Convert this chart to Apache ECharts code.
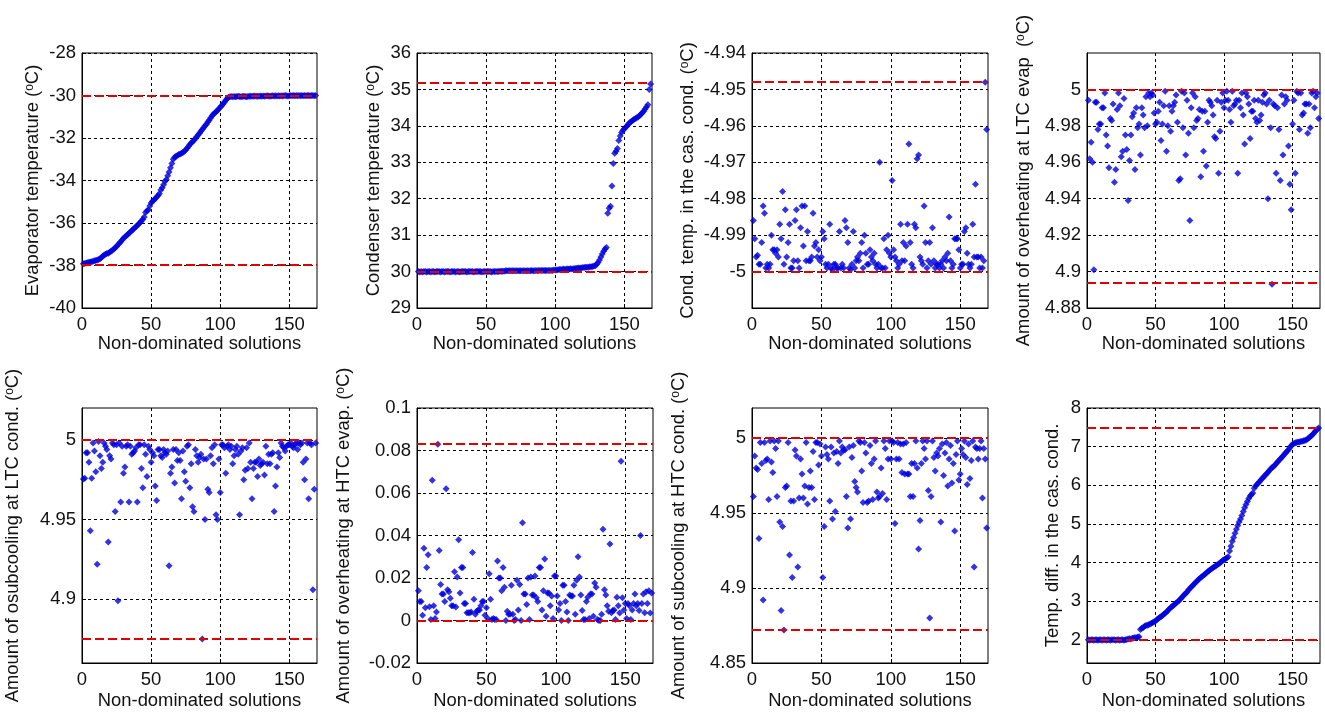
<!DOCTYPE html>
<html><head><meta charset="utf-8">
<script src="https://cdn.jsdelivr.net/npm/echarts@6/dist/echarts.min.js"></script>
<style>html,body{margin:0;padding:0;background:#fff}#c{width:1325px;height:713px}</style>
</head><body><div id="c"></div><script>
// ---------- DATA ----------
const xMax = 170;
const xTicks = [0, 50, 100, 150];
const xName = 'Non-dominated solutions';

const evapTemp = [
-37.92,-37.9,-37.88,-37.87,-37.85,-37.84,-37.82,-37.8,-37.78,-37.76,
-37.74,-37.72,-37.68,-37.62,-37.56,-37.5,-37.47,-37.44,-37.42,-37.38,
-37.33,-37.28,-37.22,-37.16,-37.1,-37.02,-36.95,-36.88,-36.8,-36.72,
-36.66,-36.6,-36.54,-36.48,-36.42,-36.35,-36.3,-36.24,-36.18,-36.12,
-36.05,-35.98,-35.9,-35.82,-35.72,-35.5,-35.42,-35.38,-35.2,-35.06,
-34.98,-34.92,-34.86,-34.78,-34.7,-34.62,-34.45,-34.34,-34.2,-34.05,
-33.95,-33.78,-33.6,-33.4,-33.2,-33.0,-32.9,-32.86,-32.82,-32.78,
-32.75,-32.72,-32.68,-32.62,-32.56,-32.48,-32.4,-32.3,-32.24,-32.18,
-32.1,-32.02,-31.94,-31.86,-31.78,-31.68,-31.6,-31.52,-31.42,-31.35,
-31.25,-31.16,-31.06,-30.96,-30.88,-30.82,-30.76,-30.7,-30.62,-30.55,
-30.48,-30.4,-30.32,-30.22,-30.14,-30.08,-30.06,-30.05,-30.06,-30.05,
-30.06,-30.05,-30.04,-30.05,-30.06,-30.05,-30.04,-30.05,-30.06,-30.05,
-30.04,-30.03,-30.04,-30.03,-30.02,-30.03,-30.04,-30.03,-30.02,-30.03,
-30.02,-30.03,-30.02,-30.01,-30.02,-30.03,-30.02,-30.01,-30.02,-30.01,
-30.02,-30.01,-30.02,-30.01,-30.02,-30.01,-30.0,-30.01,-30.02,-30.01,
-30.0,-30.01,-30.0,-30.01,-30.0,-30.01,-30.0,-30.01,-30.0,-30.01,
-30.0,-30.01,-30.0,-30.0,-30.01,-30.0,-30.0,-30.01,-30.0];

const condTemp = [
30.0,29.99,30.0,29.99,30.0,30.0,29.99,30.0,30.0,29.99,
30.0,30.0,29.99,30.0,30.0,30.0,29.99,30.0,30.0,29.99,
30.0,30.0,30.0,29.99,30.0,30.0,30.0,29.99,30.0,30.0,
29.99,30.0,30.0,30.0,30.0,29.99,30.0,30.0,30.0,30.0,
29.99,30.0,30.0,30.0,30.0,30.0,29.99,30.0,30.0,30.0,
30.0,30.0,30.0,29.99,30.0,30.0,30.0,30.0,30.0,30.01,
30.01,30.01,30.01,30.02,30.02,30.02,30.02,30.02,30.02,30.02,
30.02,30.02,30.02,30.02,30.02,30.02,30.02,30.02,30.02,30.02,
30.02,30.02,30.03,30.02,30.02,30.03,30.02,30.03,30.03,30.03,
30.03,30.03,30.03,30.03,30.03,30.03,30.03,30.03,30.04,30.04,
30.04,30.05,30.06,30.06,30.06,30.07,30.06,30.07,30.07,30.07,
30.08,30.07,30.08,30.08,30.09,30.09,30.1,30.1,30.1,30.11,
30.11,30.12,30.12,30.12,30.13,30.13,30.14,30.15,30.16,30.2,
30.25,30.32,30.4,30.48,30.56,30.62,30.66,31.6,31.74,31.79,
32.35,32.97,33.25,33.3,33.38,33.6,33.72,33.82,33.88,33.92,
33.96,34.0,34.05,34.09,34.12,34.15,34.18,34.2,34.22,34.25,
34.28,34.32,34.36,34.4,34.46,34.52,34.58,35.0,35.15];

const casCondTemp = [
-4.986,-4.991,-4.996,-4.9955,-4.998,-4.998,-4.992,-4.982,-4.984,-4.999,
-4.998,-4.999,-4.998,-4.990,-4.994,-4.994,-4.995,-4.994,-4.996,-4.987,
-4.991,-4.978,-4.998,-4.983,-4.996,-4.992,-4.987,-4.999,-4.999,-4.997,
-4.986,-4.983,-4.997,-4.999,-4.988,-4.982,-4.993,-4.982,-4.997,-4.989,
-4.997,-4.997,-4.996,-4.984,-4.993,-4.992,-4.996,-4.994,-4.997,-4.996,
-4.989,-4.991,-4.998,-4.999,-4.998,-4.987,-4.999,-4.9995,-4.998,-4.998,
-4.999,-4.999,-4.989,-4.999,-4.998,-4.999,-4.986,-4.988,-4.992,-4.999,
-4.9995,-4.998,-4.989,-4.999,-4.997,-4.996,-4.997,-4.995,-4.992,-4.999,
-4.990,-4.995,-4.998,-4.998,-4.994,-4.996,-4.997,-4.995,-4.998,-4.999,
-4.998,-4.970,-4.999,-4.999,-4.991,-4.999,-4.994,-4.990,-4.995,-4.996,
-4.975,-4.994,-4.996,-4.997,-4.999,-4.998,-4.987,-4.997,-4.992,-4.997,
-4.993,-4.987,-4.965,-4.992,-4.998,-4.999,-4.987,-4.988,-4.969,-4.968,
-4.996,-4.997,-4.998,-4.982,-4.992,-4.999,-4.997,-4.992,-4.998,-4.988,
-4.997,-4.999,-4.998,-4.998,-4.999,-4.998,-4.997,-4.999,-4.996,-4.997,
-4.995,-4.985,-4.997,-4.999,-4.998,-4.991,-4.991,-4.991,-4.994,-4.999,
-4.998,-4.998,-4.989,-4.988,-4.995,-4.998,-4.999,-4.998,-4.987,-4.996,
-4.976,-4.996,-4.996,-4.999,-4.996,-4.999,-4.997,-4.948,-4.961];

const ltcEvapOverheat = [
4.994,4.962,4.971,4.960,4.901,4.993,4.993,4.978,4.981,4.981,
4.990,4.990,4.998,4.975,4.969,4.957,4.984,4.983,4.992,4.949,
4.956,4.989,4.998,4.991,4.963,4.966,4.995,4.975,4.967,4.939,
4.961,4.975,4.985,4.987,4.956,4.990,4.979,4.981,4.964,4.990,
4.986,4.979,4.996,4.980,4.998,4.996,4.998,4.997,4.987,4.981,
4.982,4.988,4.993,4.972,4.981,4.991,4.999,4.966,4.980,4.991,
4.977,4.988,4.991,4.993,4.997,4.982,4.950,4.951,4.999,4.979,
4.998,4.964,4.994,4.976,4.928,4.990,4.998,4.979,4.996,4.983,
4.984,4.989,4.952,4.988,4.966,4.988,4.958,4.982,4.994,4.993,
4.991,4.986,4.974,4.973,4.994,4.954,4.977,4.993,4.998,4.990,
4.994,4.999,4.994,4.989,4.982,4.999,4.991,4.992,4.994,4.954,
4.994,4.990,4.998,4.986,4.970,4.998,4.996,4.992,4.973,4.988,
4.988,4.994,4.984,4.982,4.994,4.983,4.986,4.993,4.997,4.998,
4.992,4.940,4.994,4.979,4.893,4.992,4.991,4.954,4.990,4.978,
4.950,4.997,4.964,4.992,4.996,4.994,4.969,4.948,4.934,4.981,
4.994,4.954,4.999,4.998,4.978,4.998,4.986,4.987,4.992,4.992,
4.976,4.992,4.979,4.998,4.999,4.990,4.996,4.998,4.984];

const ltcCondSubcool = [
4.9755,4.976,4.992,4.992,4.986,4.943,4.976,4.998,4.993,4.980,
4.922,4.999,4.990,4.982,4.986,4.998,4.996,4.994,4.936,4.990,
4.988,4.998,4.997,4.955,4.997,4.899,4.998,4.961,4.996,4.979,
4.983,4.996,4.997,4.961,4.996,4.991,4.992,4.993,4.995,4.961,
4.997,4.997,4.982,4.970,4.997,4.991,4.977,4.996,4.994,4.986,
4.992,4.990,4.971,4.962,4.994,4.994,4.990,4.989,4.994,4.992,
4.991,4.993,4.921,4.979,4.983,4.994,4.973,4.994,4.987,4.992,
4.987,4.963,4.993,4.980,4.974,4.996,4.997,4.970,4.985,4.958,
4.955,4.994,4.990,4.986,4.989,4.991,4.875,4.988,4.950,4.988,
4.969,4.967,4.990,4.995,4.985,4.997,4.953,4.950,4.988,4.967,
4.997,4.997,4.995,4.979,4.996,4.997,4.994,4.996,4.985,4.990,
4.994,4.996,4.991,4.953,4.993,4.995,4.975,4.981,4.995,4.982,
4.998,4.986,4.963,4.982,4.986,4.986,4.977,4.988,4.984,4.985,
4.986,4.978,4.996,4.985,4.991,4.985,4.991,4.992,4.955,4.971,
4.983,4.992,4.989,4.998,4.996,4.995,4.993,4.996,4.997,4.997,
4.998,4.996,4.995,4.997,4.998,4.994,4.998,4.997,4.998,4.986,
4.975,4.988,4.998,4.963,4.998,4.997,4.906,4.969,4.998];

const htcEvapOverheat = [
0.014,0.009,0.009,0.0025,0.034,0.006,0.025,0.031,0.0065,0.0005,
0.066,0.007,0.001,0.004,0.083,0.033,0.017,0.0125,0.0125,0.009,
0.062,0.0145,0.0135,0.0105,0.007,0.007,0.023,0.0063,0.0205,0.038,
0.013,0.025,0.025,0.008,0.008,0.0036,0.0036,0.0036,0.004,0.032,
0.010,0.003,0.0044,0.005,0.005,0.007,0.009,0.009,0.0025,0.006,
0.001,0.022,0.010,0.0005,0.001,0.0005,0.0005,0.028,0.020,0.020,
0.014,0.025,0.0157,0.000,0.0044,0.003,0.003,0.0166,0.003,0.000,
0.0005,0.019,0.005,0.017,0.000,0.046,0.0125,0.0125,0.0075,0.020,
0.0005,0.0205,0.012,0.012,0.021,0.0107,0.009,0.025,0.025,0.005,
0.014,0.029,0.002,0.013,0.013,0.007,0.0115,0.001,0.021,0.021,
0.0115,0.005,0.008,0.000,0.0166,0.0166,0.009,0.004,0.000,0.012,
0.0115,0.0115,0.0166,0.003,0.019,0.030,0.0205,0.012,0.0047,0.0005,
0.0005,0.009,0.011,0.001,0.0125,0.0125,0.002,0.0177,0.0157,0.0005,
0.000,0.000,0.003,0.043,0.0145,0.012,0.007,0.0044,0.036,0.0036,
0.0047,0.005,0.0005,0.011,0.007,0.0035,0.075,0.0107,0.005,0.008,
0.001,0.008,0.007,0.0005,0.005,0.008,0.0125,0.007,0.008,0.0047,
0.040,0.008,0.0125,0.0036,0.0135,0.008,0.014,0.0035,0.013];

const htcCondSubcool = [
4.961,4.988,4.980,4.979,4.933,4.997,4.983,4.892,4.997,4.985,
4.986,4.959,4.998,4.984,4.977,4.998,4.993,4.961,4.998,4.944,
4.885,4.941,4.872,4.967,4.968,4.997,4.922,4.958,4.907,4.958,
4.992,4.988,4.914,4.960,4.986,4.976,4.960,4.968,4.997,4.956,
4.967,4.978,4.967,4.991,4.959,4.997,4.997,4.982,4.996,4.988,
4.907,4.941,4.994,4.989,4.986,4.958,4.994,4.946,4.990,4.951,
4.991,4.983,4.998,4.990,4.994,4.992,4.992,4.961,4.940,4.994,
4.946,4.987,4.995,4.971,4.967,4.964,4.998,4.997,4.978,4.957,
4.997,4.990,4.957,4.958,4.995,4.983,4.959,4.986,4.998,4.964,
4.960,4.961,4.980,4.963,4.998,4.993,4.959,4.986,4.998,4.986,
4.998,4.997,4.943,4.986,4.997,4.986,4.996,4.977,4.996,4.976,
4.997,4.976,4.976,4.961,4.983,4.961,4.983,4.998,4.980,4.926,
4.945,4.983,4.998,4.993,4.986,4.998,4.965,4.880,4.961,4.998,
4.987,4.978,4.990,4.988,4.993,4.944,4.996,4.975,4.990,4.997,
4.968,4.986,4.995,4.970,4.983,4.938,4.989,4.998,4.972,4.976,
4.993,4.989,4.998,4.987,4.969,4.996,4.973,4.985,4.998,4.914,
4.994,4.993,4.986,4.993,4.998,4.960,4.993,4.986,4.940];

const casTempDiff = [
2.0,1.99,2.0,2.0,1.99,2.0,2.0,1.99,2.0,2.0,
1.99,2.0,2.0,1.99,2.0,2.0,1.99,2.0,2.0,2.0,
1.99,2.0,2.0,1.99,2.0,2.0,1.99,2.0,2.01,2.02,
2.03,2.02,2.04,2.05,2.06,2.05,2.07,2.08,2.27,2.3,
2.32,2.35,2.37,2.38,2.39,2.41,2.43,2.45,2.47,2.49,
2.52,2.55,2.58,2.6,2.63,2.66,2.69,2.72,2.76,2.8,
2.83,2.86,2.89,2.92,2.95,2.98,3.01,3.05,3.09,3.13,
3.17,3.2,3.24,3.29,3.33,3.37,3.4,3.44,3.48,3.51,
3.55,3.58,3.61,3.64,3.67,3.7,3.73,3.76,3.79,3.82,
3.84,3.87,3.89,3.91,3.94,3.96,3.99,4.02,4.05,4.07,
4.1,4.12,4.15,4.3,4.42,4.55,4.65,4.76,4.86,4.96,
5.05,5.13,5.22,5.32,5.42,5.5,5.58,5.66,5.72,5.76,
5.8,5.92,5.98,6.02,6.06,6.1,6.14,6.18,6.22,6.26,
6.3,6.34,6.38,6.42,6.46,6.48,6.52,6.56,6.6,6.64,
6.68,6.72,6.76,6.8,6.84,6.88,6.92,6.97,7.02,7.06,
7.08,7.1,7.11,7.12,7.12,7.13,7.14,7.15,7.16,7.18,
7.2,7.23,7.26,7.29,7.33,7.37,7.41,7.45,7.48];

// y tick labels and axis ranges
const evapTicks = [-40,-38,-36,-34,-32,-30,-28];
const condTicks = [29,30,31,32,33,34,35,36];
const casCondTicks = [-5,-4.99,-4.98,-4.97,-4.96,-4.95,-4.94];
const ltcEvapTicks = [4.88,4.9,4.92,4.94,4.96,4.98,5];
const ltcCondTicks = [4.9,4.95,5];
const htcEvapTicks = [-0.02,0,0.02,0.04,0.06,0.08,0.1];
const htcCondTicks = [4.85,4.9,4.95,5];
const tempDiffTicks = [2,3,4,5,6,7,8];

const evapRange = [-40,-28], condRange = [29,36], casCondRange = [-5.01,-4.94], ltcEvapRange = [4.88,5.02];
const ltcCondRange = [4.86,5.02], htcEvapRange = [-0.02,0.1], htcCondRange = [4.85,5.02], tempDiffRange = [1.4,8];

// red dashed bound lines
const evapLimits = [-30,-37.95], condLimits = [35.18,30.0], casCondLimits = [-4.948,-5.0], ltcEvapLimits = [5.0,4.894];
const ltcCondLimits = [5.0,4.875], htcEvapLimits = [0.083,0], htcCondLimits = [5.0,4.872], tempDiffLimits = [7.48,2.0];

const yNames = [
 'Evaporator temperature ({s|o}C)',
 'Condenser temperature ({s|o}C)',
 'Cond. temp. in the cas. cond. ({s|o}C)',
 'Amount of overheating at LTC evap  ({s|o}C)',
 'Amount of osubcooling at LTC cond. ({s|o}C)',
 'Amount of overheating at HTC evap. ({s|o}C)',
 'Amount of subcooling at HTC cond. ({s|o}C)',
 'Temp. diff. in the cas. cond.'
];

const panels = [
 {values: evapTemp, ticks: evapTicks, range: evapRange, limits: evapLimits},
 {values: condTemp, ticks: condTicks, range: condRange, limits: condLimits},
 {values: casCondTemp, ticks: casCondTicks, range: casCondRange, limits: casCondLimits},
 {values: ltcEvapOverheat, ticks: ltcEvapTicks, range: ltcEvapRange, limits: ltcEvapLimits},
 {values: ltcCondSubcool, ticks: ltcCondTicks, range: ltcCondRange, limits: ltcCondLimits},
 {values: htcEvapOverheat, ticks: htcEvapTicks, range: htcEvapRange, limits: htcEvapLimits},
 {values: htcCondSubcool, ticks: htcCondTicks, range: htcCondRange, limits: htcCondLimits},
 {values: casTempDiff, ticks: tempDiffTicks, range: tempDiffRange, limits: tempDiffLimits}
];

// ---------- LAYOUT ----------
const layout = [
 {left:82, top:53, width:235, height:255, gap:40, xgap:23},
 {left:417, top:53, width:235, height:255, gap:34, xgap:23},
 {left:752, top:53, width:236, height:255, gap:55, xgap:23},
 {left:1087, top:53, width:233, height:255, gap:54, xgap:23},
 {left:82, top:408, width:235, height:255, gap:60, xgap:29},
 {left:417, top:408, width:236, height:255, gap:64, xgap:29},
 {left:752, top:408, width:236, height:255, gap:64, xgap:29},
 {left:1087, top:408, width:233, height:255, gap:25, xgap:29}
];

const FONT = "'Liberation Sans', Arial, sans-serif";
const TXT = '#111';
const fmt = v => String(+(+v).toFixed(4));

const grids = [], xAxes = [], yAxes = [], series = [];
panels.forEach((p, i) => {
  const L = layout[i];
  grids.push({left:L.left, top:L.top, width:L.width, height:L.height, show:true, borderColor:'#000', borderWidth:1, backgroundColor:'#fff'});
  xAxes.push({
    type:'value', gridIndex:i, min:0, max:xMax,
    name:xName, nameLocation:'middle', nameGap:L.xgap,
    nameTextStyle:{fontSize:18.4, fontFamily:FONT, color:TXT},
    axisLine:{show:true, onZero:false, lineStyle:{color:'#000', width:1}},
    axisTick:{show:true, inside:true, length:4, customValues:xTicks, lineStyle:{color:'#000'}},
    axisLabel:{customValues:xTicks, fontSize:18.5, fontFamily:FONT, color:TXT, margin:7, formatter:fmt},
    splitLine:{show:true, lineStyle:{color:'#000', type:[3,3], width:1}}
  });
  yAxes.push({
    type:'value', gridIndex:i, min:p.range[0], max:p.range[1],
    name:yNames[i], nameLocation:'middle', nameGap:L.gap, nameRotate:90,
    nameTextStyle:{fontSize:18.4, fontFamily:FONT, color:TXT,
      rich:{s:{fontSize:12, fontFamily:FONT, color:TXT, verticalAlign:'top'}}},
    axisLine:{show:true, onZero:false, lineStyle:{color:'#000', width:1}},
    axisTick:{show:true, inside:true, length:4, customValues:p.ticks, lineStyle:{color:'#000'}},
    axisLabel:{customValues:p.ticks, fontSize:18.5, fontFamily:FONT, color:TXT, margin:6, formatter:fmt},
    splitLine:{show:true, lineStyle:{color:'#000', type:[3,3], width:1}}
  });
  series.push({
    type:'scatter', xAxisIndex:i, yAxisIndex:i,
    data:p.values.map((v,k)=>[k+1, v]),
    symbol:'diamond', symbolSize:7,
    itemStyle:{color:'#0000dd'},
    emphasis:{disabled:true},
    markLine:{silent:true, symbol:'none', precision:4, label:{show:false}, animation:false,
      lineStyle:{color:'#e00000', type:[9,4], width:2},
      data:p.limits.map(v=>({yAxis:v}))}
  });
});

const chart = echarts.init(document.getElementById('c'), null, {renderer:'canvas'});
chart.setOption({animation:false, backgroundColor:'#fff', grid:grids, xAxis:xAxes, yAxis:yAxes, series:series});
</script></body></html>
